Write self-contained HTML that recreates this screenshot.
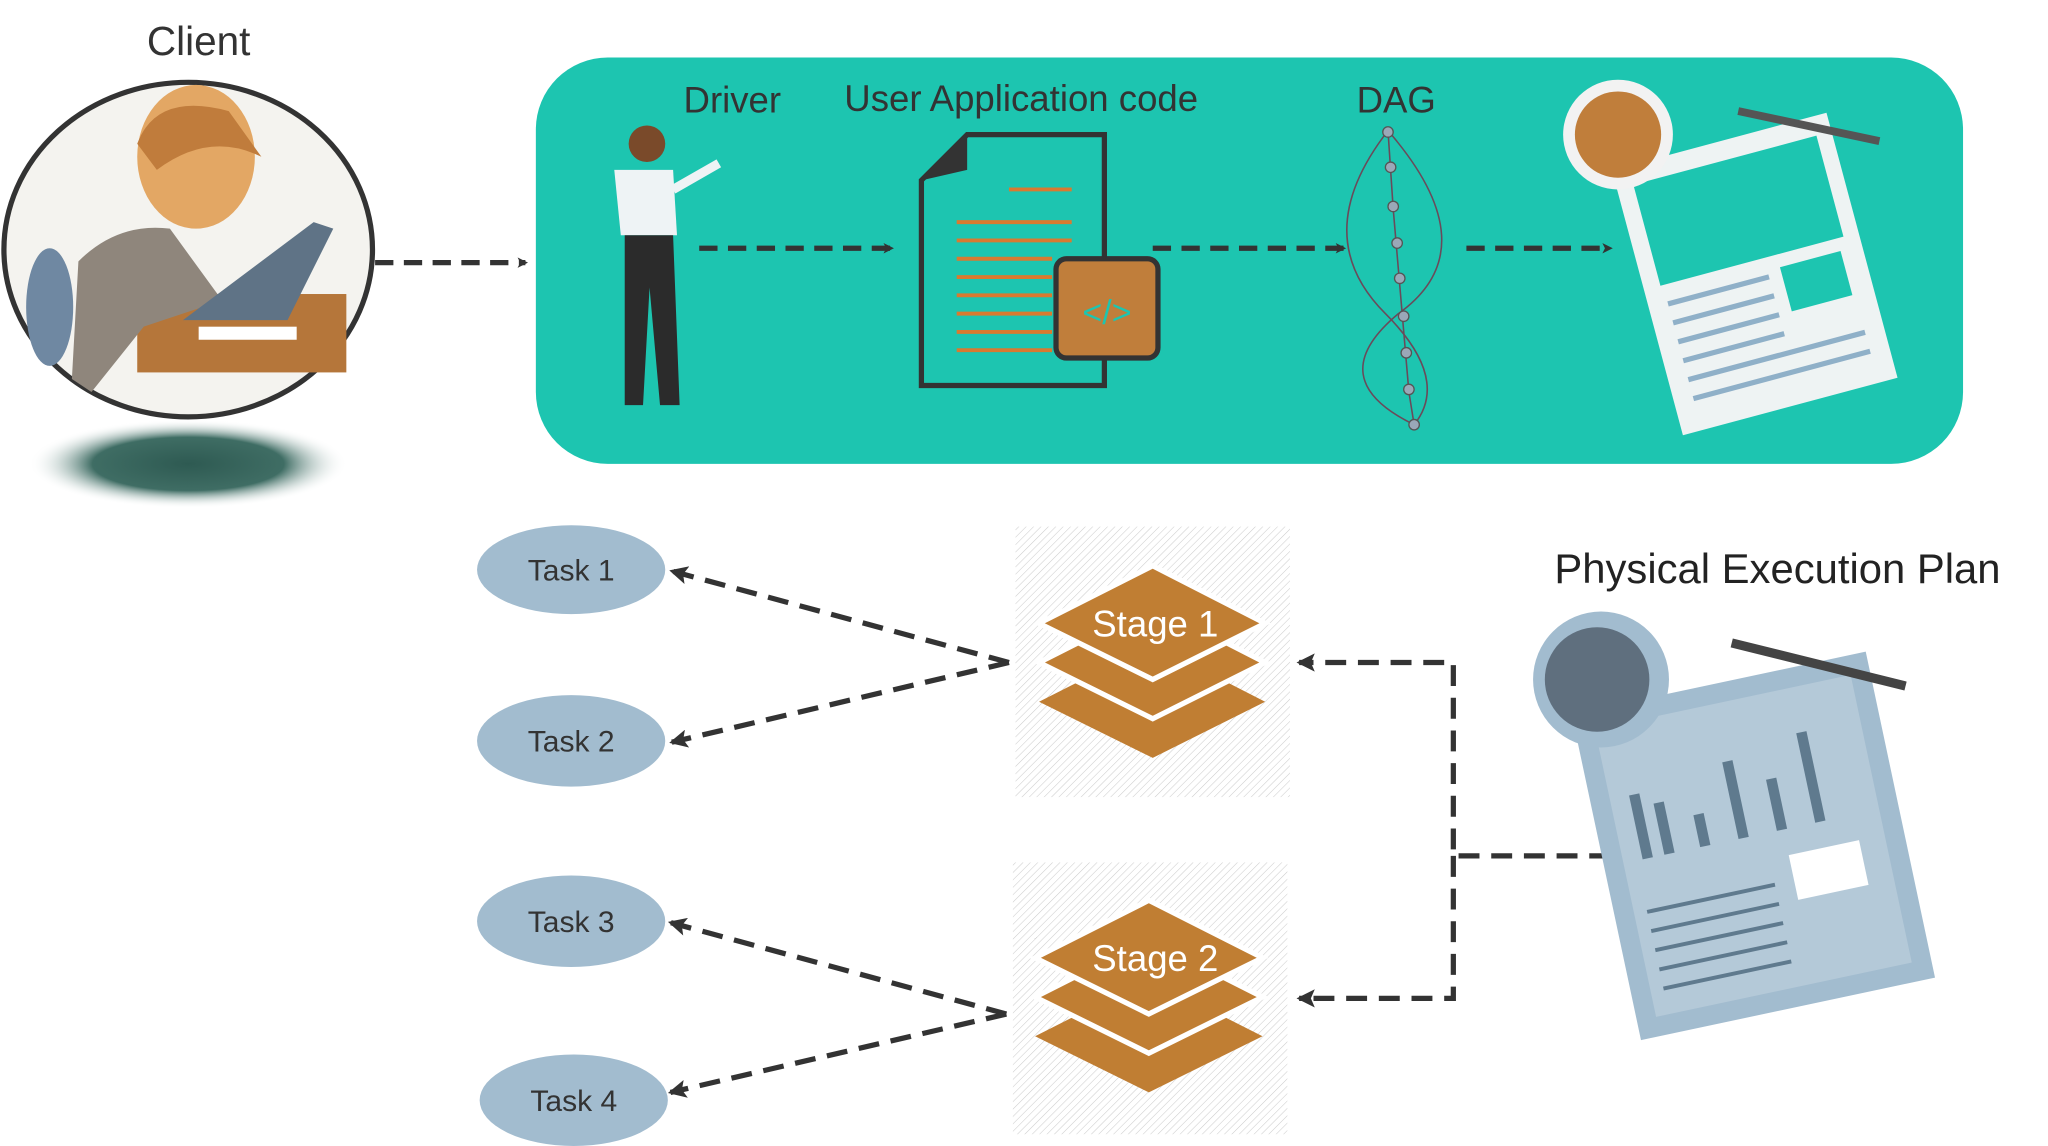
<!DOCTYPE html>
<html><head><meta charset="utf-8"><style>html,body{margin:0;padding:0;background:#fff}svg{display:block}text{font-family:"Liberation Sans",sans-serif}</style></head><body>
<svg width="2048" height="1146" viewBox="0 0 1567 877" preserveAspectRatio="none" xmlns="http://www.w3.org/2000/svg">
<defs>
<pattern id="h" width="4" height="4" patternUnits="userSpaceOnUse" patternTransform="rotate(45)"><line x1="0" y1="0" x2="0" y2="4" stroke="#ccc" stroke-width="0.8"/></pattern>
<radialGradient id="sh"><stop offset="0" stop-color="#2e5a52"/><stop offset="0.6" stop-color="#3f6d64"/><stop offset="1" stop-color="#fff" stop-opacity="0"/></radialGradient>
<marker id="a" markerWidth="8" markerHeight="8" refX="6" refY="4" orient="auto" markerUnits="userSpaceOnUse"><path d="M0,0 L8,4 L0,8 L2,4z" fill="#333"/></marker>
<marker id="b" markerWidth="14" markerHeight="14" refX="12" refY="7" orient="auto" markerUnits="userSpaceOnUse"><path d="M0,0 L14,7 L0,14 L3,7z" fill="#333"/></marker>
</defs>
<text x="152" y="42" font-size="31" fill="#333" text-anchor="middle">Client</text>
<ellipse cx="144" cy="355" rx="122" ry="34" fill="url(#sh)"/>
<ellipse cx="144" cy="191" rx="141" ry="128" fill="#f4f3ef" stroke="#333" stroke-width="4"/>
<rect x="105" y="225" width="160" height="60" fill="#b5763a"/>
<ellipse cx="38" cy="235" rx="18" ry="45" fill="#6f88a2"/>
<path d="M60 200 Q90 170 130 175 L170 230 L110 250 L70 300 L55 290z" fill="#8f867c"/>
<ellipse cx="150" cy="120" rx="45" ry="55" fill="#e3a764"/>
<path d="M105 110 Q120 70 175 85 L200 120 Q160 100 120 130z" fill="#c07c3c"/>
<path d="M140 245 L220 245 L255 175 L240 170 Z" fill="#5f7386"/>
<rect x="152" y="250" width="75" height="10" fill="#fff"/>
<path d="M287 201 H402" stroke="#333" stroke-width="4" stroke-dasharray="14,8" marker-end="url(#a)"/>
<rect x="410" y="44" width="1092" height="311" rx="55" fill="#1dc5b0"/>
<text x="523" y="86" font-size="28" fill="#333">Driver</text>
<text x="646" y="85" font-size="28" fill="#333">User Application code</text>
<text x="1038" y="86" font-size="28" fill="#333">DAG</text>
<circle cx="495" cy="110" r="14" fill="#7a4a2a"/>
<path d="M470 130 L515 130 L518 180 L475 180z" fill="#eef3f5"/>
<path d="M515 145 L550 125" stroke="#eef3f5" stroke-width="7"/>
<path d="M478 180 L515 180 L520 310 L505 310 L497 220 L492 310 L478 310z" fill="#2b2b2b"/>
<path d="M535 190 H682" stroke="#333" stroke-width="4" stroke-dasharray="14,8" marker-end="url(#a)"/>
<path d="M740 103 H845 V295 H705 V138z" fill="none" stroke="#333" stroke-width="4"/>
<path d="M705 138 L740 103 L740 130 Z" fill="#333"/>
<g stroke="#d97a30" stroke-width="3"><line x1="772" y1="145" x2="820" y2="145"/><line x1="732" y1="170" x2="820" y2="170"/><line x1="732" y1="184" x2="820" y2="184"/><line x1="732" y1="198" x2="805" y2="198"/><line x1="732" y1="212" x2="805" y2="212"/><line x1="732" y1="226" x2="805" y2="226"/><line x1="732" y1="240" x2="805" y2="240"/><line x1="732" y1="254" x2="805" y2="254"/><line x1="732" y1="268" x2="805" y2="268"/></g>
<rect x="808" y="198" width="78" height="76" rx="8" fill="#c07e3b" stroke="#333" stroke-width="4"/>
<text x="847" y="248" font-size="26" fill="#1dc5b0" text-anchor="middle">&lt;/&gt;</text>
<path d="M882 190 H1028" stroke="#333" stroke-width="4" stroke-dasharray="14,8" marker-end="url(#a)"/>
<g fill="none" stroke="#6a4a5a" stroke-width="1.2"><path d="M1062 100 Q1000 180 1060 240 Q1110 290 1082 325"/><path d="M1062 100 Q1140 190 1070 240 Q1010 290 1082 325"/><path d="M1062 100 L1066 160 L1072 230 L1078 300 L1082 325"/></g>
<g fill="#9aa8b8" stroke="#555" stroke-width="1"><circle cx="1062" cy="101" r="4"/><circle cx="1064" cy="128" r="4"/><circle cx="1066" cy="158" r="4"/><circle cx="1069" cy="186" r="4"/><circle cx="1071" cy="213" r="4"/><circle cx="1074" cy="242" r="4"/><circle cx="1076" cy="270" r="4"/><circle cx="1078" cy="298" r="4"/><circle cx="1082" cy="325" r="4"/></g>
<path d="M1122 190 H1232" stroke="#333" stroke-width="4" stroke-dasharray="14,8" marker-end="url(#a)"/>
<g transform="rotate(-15 1340 200)"><rect x="1255" y="105" width="170" height="210" fill="#eef3f3"/><rect x="1268" y="120" width="145" height="80" fill="#1dc5b0"/><g stroke="#8fb0c8" stroke-width="4"><line x1="1270" y1="215" x2="1350" y2="215"/><line x1="1270" y1="230" x2="1350" y2="230"/><line x1="1270" y1="245" x2="1350" y2="245"/><line x1="1270" y1="260" x2="1350" y2="260"/><line x1="1270" y1="275" x2="1410" y2="275"/><line x1="1270" y1="290" x2="1410" y2="290"/></g><rect x="1360" y="210" width="48" height="35" fill="#1dc5b0"/></g>
<circle cx="1238" cy="103" r="42" fill="#f2f2f2"/><circle cx="1238" cy="103" r="33" fill="#c07e3b"/>
<line x1="1330" y1="85" x2="1438" y2="108" stroke="#555" stroke-width="6"/>
<ellipse cx="437" cy="436" rx="72" ry="34" fill="#a2bccf"/><text x="437" y="438" font-size="23" fill="#333" text-anchor="middle" dominant-baseline="middle">Task 1</text>
<ellipse cx="437" cy="567" rx="72" ry="35" fill="#a2bccf"/><text x="437" y="569" font-size="23" fill="#333" text-anchor="middle" dominant-baseline="middle">Task 2</text>
<ellipse cx="437" cy="705" rx="72" ry="35" fill="#a2bccf"/><text x="437" y="707" font-size="23" fill="#333" text-anchor="middle" dominant-baseline="middle">Task 3</text>
<ellipse cx="439" cy="842" rx="72" ry="35" fill="#a2bccf"/><text x="439" y="844" font-size="23" fill="#333" text-anchor="middle" dominant-baseline="middle">Task 4</text>
<rect x="777" y="403" width="210" height="207" fill="url(#h)"/>
<rect x="775" y="660" width="210" height="208" fill="url(#h)"/>
<g fill="#c07e33"><path d="M795 537 L882 493 L968 537 L882 580z"/><path d="M795 507 L882 463 L968 507 L882 550z" stroke="#fff" stroke-width="4"/><path d="M795 477 L882 433 L968 477 L882 520z" stroke="#fff" stroke-width="4"/></g>
<text x="884" y="487" font-size="28" fill="#fff" text-anchor="middle">Stage 1</text>
<g fill="#c07e33"><path d="M792 793 L879 749 L966 793 L879 836z"/><path d="M792 763 L879 719 L966 763 L879 806z" stroke="#fff" stroke-width="4"/><path d="M792 733 L879 689 L966 733 L879 776z" stroke="#fff" stroke-width="4"/></g>
<text x="884" y="743" font-size="28" fill="#fff" text-anchor="middle">Stage 2</text>
<g stroke="#333" stroke-width="4" stroke-dasharray="16,9" fill="none">
<path d="M772 507 L514 437" marker-end="url(#b)"/>
<path d="M772 507 L514 568" marker-end="url(#b)"/>
<path d="M770 776 L513 706" marker-end="url(#b)"/>
<path d="M770 776 L513 836" marker-end="url(#b)"/>
<path d="M1232 655 H1112 V507 H994" marker-end="url(#b)"/>
<path d="M1112 655 V764 H994" marker-end="url(#b)"/>
</g>
<text x="1360" y="446" font-size="32" fill="#222" text-anchor="middle">Physical Execution Plan</text>
<g transform="rotate(-12 1340 640)"><rect x="1225" y="520" width="230" height="255" fill="#a2bccf"/><rect x="1240" y="535" width="200" height="225" fill="#fff" opacity="0.2"/><g fill="#5f7a8e"><rect x="1255" y="590" width="8" height="50"/><rect x="1272" y="600" width="8" height="40"/><rect x="1300" y="615" width="8" height="25"/><rect x="1330" y="580" width="8" height="60"/><rect x="1360" y="600" width="8" height="40"/><rect x="1390" y="570" width="8" height="70"/></g><g stroke="#5f7a8e" stroke-width="3"><line x1="1250" y1="680" x2="1350" y2="680"/><line x1="1250" y1="695" x2="1350" y2="695"/><line x1="1250" y1="710" x2="1350" y2="710"/><line x1="1250" y1="725" x2="1350" y2="725"/><line x1="1250" y1="740" x2="1350" y2="740"/></g><rect x="1365" y="660" width="55" height="35" fill="#fff"/></g>
<circle cx="1225" cy="520" r="52" fill="#a2bccf"/><circle cx="1222" cy="520" r="40" fill="#5f6f7e"/>
<line x1="1325" y1="492" x2="1458" y2="525" stroke="#444" stroke-width="7"/>
</svg>
</body></html>
